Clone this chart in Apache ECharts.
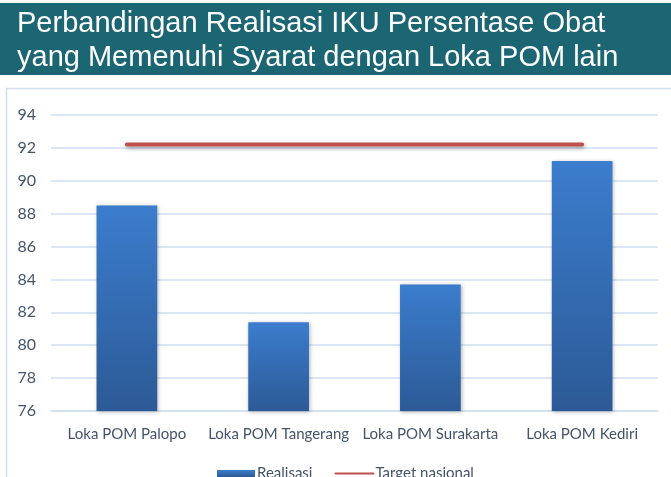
<!DOCTYPE html>
<html>
<head>
<meta charset="utf-8">
<script src="https://cdn.jsdelivr.net/npm/echarts@6/dist/echarts.min.js"></script>
<style>
html,body{margin:0;padding:0;background:#fff;}
#c{width:671px;height:477px;}
</style>
</head>
<body>
<div id="c"></div>
<script>
var titleLines = ['Perbandingan Realisasi IKU Persentase Obat', 'yang Memenuhi Syarat dengan Loka POM lain'];
var categories = ['Loka POM Palopo', 'Loka POM Tangerang', 'Loka POM Surakarta', 'Loka POM Kediri'];
var realisasi = [88.5, 81.4, 83.7, 91.2];
var targetNasional = [92.2, 92.2, 92.2, 92.2];
var yTicks = [76, 78, 80, 82, 84, 86, 88, 90, 92, 94];

var chart = echarts.init(document.getElementById('c'), null, {renderer: 'canvas'});
var labelColor = '#44546a';
chart.setOption({
  backgroundColor: '#ffffff',
  animation: false,
  graphic: [
    {type: 'rect', shape: {x: 0, y: 3, width: 671, height: 72}, style: {fill: '#1c6572'}, z: 0},
    {type: 'text', left: 17, top: 7, style: {text: titleLines.join('\n'), fill: '#ffffff', font: '29px "Liberation Sans", Arial, sans-serif', lineHeight: 34}, z: 1},
    {type: 'rect', shape: {x: 6.5, y: 88.5, width: 680, height: 400}, style: {fill: 'none', stroke: '#d0def0', lineWidth: 1.5}, z: 0}
  ],
  grid: {left: 51, right: 13, top: 115, bottom: 66},
  legend: {
    bottom: -9, left: 212,
    itemGap: 22, itemWidth: 38, itemHeight: 7,
    textStyle: {color: labelColor, fontFamily: 'Lato', fontSize: 15, padding: [0, 0, 0, -3]},
    data: [
      {name: 'Realisasi', icon: 'rect'},
      {name: 'Target nasional', itemStyle: {color: 'rgba(0,0,0,0)', borderWidth: 0, opacity: 0}}
    ]
  },
  xAxis: {
    type: 'category', data: categories,
    axisLine: {show: true, lineStyle: {color: '#d0def0', width: 1.5}},
    axisTick: {show: false},
    axisLabel: {color: labelColor, fontFamily: 'Lato', fontSize: 15, margin: 16, interval: 0}
  },
  yAxis: {
    type: 'value', min: 76, max: 94, interval: 2,
    axisLine: {show: false}, axisTick: {show: false},
    splitLine: {lineStyle: {color: '#d0def0', width: 1.5}},
    axisLabel: {color: labelColor, fontFamily: 'Lato', fontSize: 16, margin: 15,
      formatter: function (v) { return yTicks.indexOf(v) >= 0 ? String(v) : ''; }}
  },
  series: [
    {
      name: 'Realisasi', type: 'bar', data: realisasi, barWidth: '40%',
      itemStyle: {
        color: new echarts.graphic.LinearGradient(0, 0, 0, 1, [
          {offset: 0, color: '#3b7dcd'}, {offset: 1, color: '#2c5a96'}
        ]),
        shadowBlur: 4, shadowColor: 'rgba(0,0,0,0.3)', shadowOffsetX: 1, shadowOffsetY: 1
      }
    },
    {
      name: 'Target nasional', type: 'line', data: targetNasional, symbol: 'none',
      itemStyle: {color: '#c0504d'},
      lineStyle: {color: '#c0504d', width: 4, shadowBlur: 4, shadowColor: 'rgba(0,0,0,0.35)', shadowOffsetX: 1, shadowOffsetY: 2, cap: 'round'}
    }
  ]
});
</script>
</body>
</html>
